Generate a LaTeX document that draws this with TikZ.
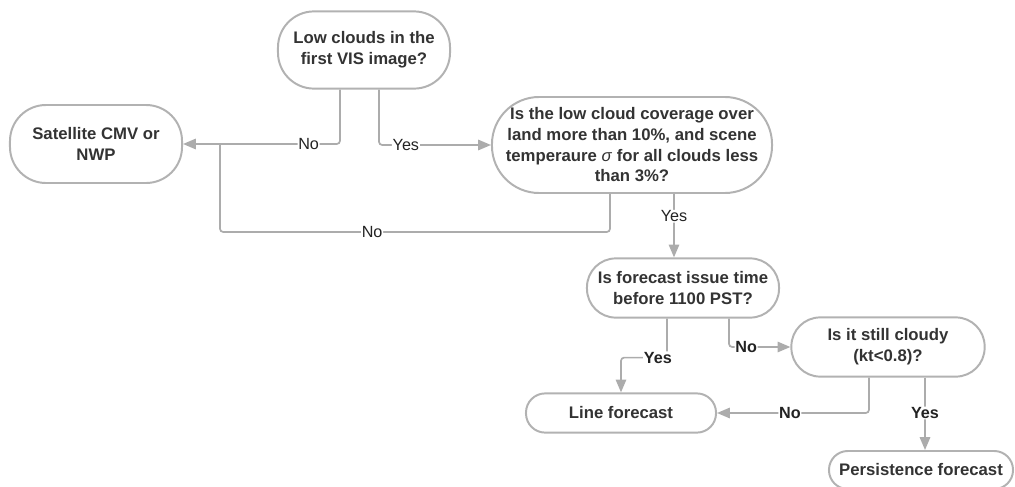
\documentclass[tikz,border=0pt]{standalone}
\usepackage{fontspec}
\setmainfont{Liberation Sans}
\usetikzlibrary{arrows.meta,calc,positioning}

\tikzset{
    decision/.style={shape=rectangle,draw=flow_border,line width=1.4pt,fill=white,
        align=center,text=flow_text,font=\bfseries\fontsize{11.9}{14.7}\selectfont,inner sep=0pt},
    flow/.style={draw=flow_line,line width=1.2pt,rounded corners=0.08cm,
        -{Triangle[length=3.2mm,width=2.6mm]}},
    lbl/.style={fill=white,inner sep=0.5pt,text=flow_label,font=\fontsize{11.5}{14}\selectfont},
    lblbold/.style={lbl,font=\bfseries\fontsize{11.5}{14}\selectfont}
}

\begin{document}
\begin{tikzpicture}[x=0.025cm,y=-0.025cm]
    \definecolor{flow_border}{RGB}{178,178,178}
    \definecolor{flow_line}{RGB}{172,172,172}
    \definecolor{flow_text}{RGB}{51,51,51}
    \definecolor{flow_label}{RGB}{35,35,35}
    \useasboundingbox (0,0) rectangle (1015,487);

    \node[decision,minimum width=4.3cm,minimum height=1.93cm,rounded corners=0.9cm] (lowclouds) at (364,50)
        {Low clouds in the\\first VIS image?};
    \node[decision,minimum width=4.3cm,minimum height=1.95cm,rounded corners=0.9cm] (satcmv) at (96,144)
        {Satellite CMV or\\NWP};
    \node[decision,minimum width=7.0cm,minimum height=2.4cm,rounded corners=1.18cm] (coverage) at (632,145)
        {Is the low cloud coverage over\\land more than 10\%, and scene\\temperaure \textmd{\textit{σ}} for all clouds less\\than 3\%?};
    \node[decision,minimum width=4.8cm,minimum height=1.48cm,rounded corners=0.72cm] (issuetime) at (683,288)
        {Is forecast issue time\\before 1100 PST?};
    \node[decision,minimum width=4.83cm,minimum height=1.48cm,rounded corners=0.72cm] (cloudy) at (888,347)
        {Is it still cloudy\\(kt<0.8)?};
    \node[decision,minimum width=4.75cm,minimum height=0.98cm,rounded corners=0.48cm] (lineforecast) at (621,413)
        {Line forecast};
    \node[decision,minimum width=4.6cm,minimum height=0.95cm,rounded corners=0.47cm] (persistence) at (921,470)
        {Persistence forecast};

    % first image
    \draw[flow] ($(lowclouds.south)+(-24,0)$) |- node[lbl,pos=0.6] {No} (satcmv.east);
    \draw[flow] ($(lowclouds.south)+(15,0)$) |- node[lbl,pos=0.62] {Yes} (coverage.west);

    % coverage test
    \coordinate (backloop) at (220,232);
    \draw[flow,-] ($(coverage.south)+(-22,0)$) |- node[lbl,pos=0.805] {No} (backloop) -- (backloop |- satcmv.east);
    \draw[flow] ($(coverage.south)+(42,0)$) coordinate (yesdown) -- node[lbl,pos=0.35] {Yes} (yesdown |- issuetime.north);

    % issue time
    \draw[flow] ($(issuetime.south)+(-16,0)$) -- ++(0,39) -| node[lblbold,pos=0.1] {Yes} (lineforecast.north);
    \draw[flow] ($(issuetime.south)+(46,0)$) |- node[lblbold,pos=0.64] {No} (cloudy.west);

    % still cloudy
    \draw[flow] ($(cloudy.south)+(-19,0)$) |- node[lblbold,pos=0.76] {No} (lineforecast.east);
    \draw[flow] ($(cloudy.south)+(37,0)$) coordinate (yespers) -- node[lblbold,pos=0.49] {Yes} (yespers |- persistence.north);

\end{tikzpicture}
\end{document}
